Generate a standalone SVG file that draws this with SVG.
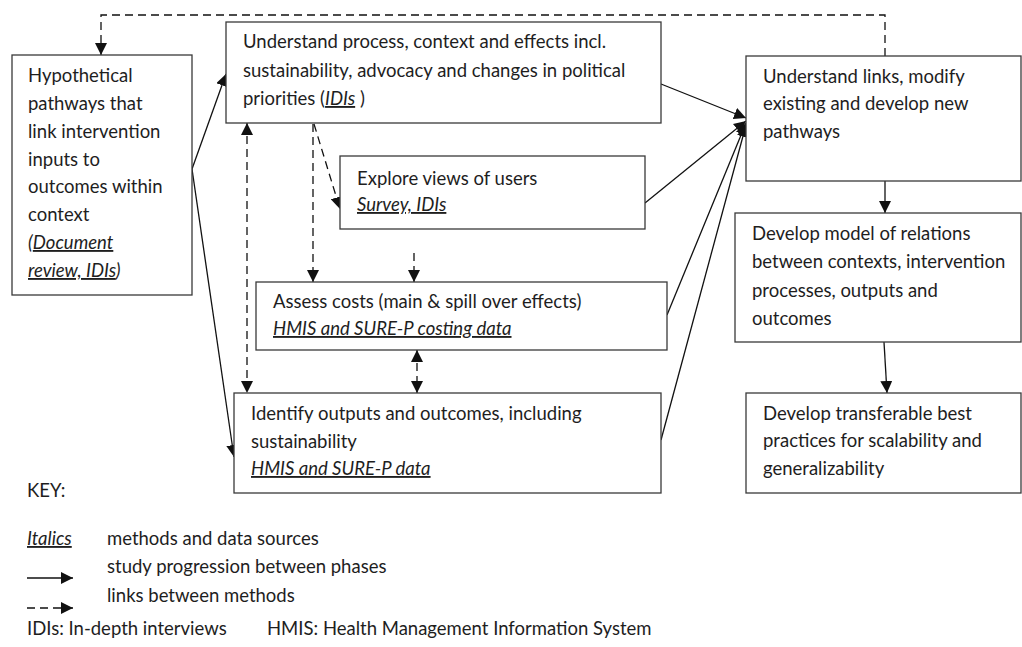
<svg xmlns="http://www.w3.org/2000/svg" width="1022" height="647" viewBox="0 0 1022 647">
<defs>
<marker id="ah" viewBox="0 0 12 12" refX="12" refY="6" markerWidth="12" markerHeight="12" orient="auto-start-reverse" markerUnits="userSpaceOnUse"><path d="M0,0 L12,6 L0,12 z" fill="#111"/></marker>
<style>
.box{fill:#fff;stroke:#3a3a3a;stroke-width:1.3}
text{font-family:Lato,"Liberation Sans",sans-serif;font-size:18.5px;fill:#1e1e1e}
.m{font-style:italic;text-decoration:underline}
.s{fill:none;stroke:#111;stroke-width:1.3}
.d{fill:none;stroke:#111;stroke-width:1.3;stroke-dasharray:8 5}
</style>
</defs>
<rect width="1022" height="647" fill="#fff"/>
<g id="connectors">
<polyline class="d" points="885,56 885,15 101,15 101,55" marker-end="url(#ah)"/>
<line class="s" x1="192" y1="169" x2="226" y2="74" marker-end="url(#ah)"/>
<line class="s" x1="192" y1="169" x2="234" y2="457" marker-end="url(#ah)"/>
<line class="s" x1="661" y1="84" x2="746" y2="118" marker-end="url(#ah)"/>
<line class="s" x1="645" y1="203" x2="746" y2="121" marker-end="url(#ah)"/>
<line class="s" x1="667" y1="315" x2="746" y2="123" marker-end="url(#ah)"/>
<line class="s" x1="661" y1="440" x2="746" y2="125" marker-end="url(#ah)"/>
<line class="s" x1="885" y1="181" x2="885" y2="213" marker-end="url(#ah)"/>
<line class="s" x1="884" y1="342" x2="887" y2="393" marker-end="url(#ah)"/>
<line class="d" x1="247" y1="123" x2="247" y2="393" marker-start="url(#ah)" marker-end="url(#ah)"/>
<line class="d" x1="313" y1="124" x2="313" y2="282" marker-end="url(#ah)"/>
<line class="d" x1="314" y1="124" x2="340" y2="209" marker-end="url(#ah)"/>
<line class="d" x1="414" y1="253" x2="414" y2="282" marker-end="url(#ah)"/>
<line class="d" x1="417" y1="350" x2="417" y2="393" stroke-dasharray="6 4" marker-start="url(#ah)" marker-end="url(#ah)"/>
</g>
<g id="n1">
<rect class="box" x="12" y="55" width="180" height="240"/>
<text x="28" y="82">Hypothetical</text>
<text x="28" y="110">pathways that</text>
<text x="28" y="138">link intervention</text>
<text x="28" y="166">inputs to</text>
<text x="28" y="193">outcomes within</text>
<text x="28" y="221">context</text>
<text x="28" y="249" font-style="italic">(<tspan class="m">Document</tspan></text>
<text x="28" y="277" font-style="italic"><tspan class="m">review, IDIs</tspan>)</text>
</g>
<g id="n2">
<rect class="box" x="226" y="22" width="435" height="101"/>
<text x="243" y="48">Understand process, context and effects incl.</text>
<text x="243" y="77">sustainability, advocacy and changes in political</text>
<text x="243" y="105">priorities (<tspan class="m">IDIs</tspan> )</text>
</g>
<g id="n3">
<rect class="box" x="340" y="156" width="305" height="73"/>
<text x="357" y="185">Explore views of users</text>
<text x="357" y="211"><tspan class="m">Survey, IDIs</tspan></text>
</g>
<g id="n4">
<rect class="box" x="256" y="282" width="411" height="68"/>
<text x="273" y="308">Assess costs (main &amp; spill over effects)</text>
<text x="273" y="335"><tspan class="m">HMIS and SURE-P costing data</tspan></text>
</g>
<g id="n5">
<rect class="box" x="234" y="393" width="427" height="100"/>
<text x="251" y="420">Identify outputs and outcomes, including</text>
<text x="251" y="448">sustainability</text>
<text x="251" y="475"><tspan class="m">HMIS and SURE-P data</tspan></text>
</g>
<g id="n6">
<rect class="box" x="746" y="56" width="275" height="125"/>
<text x="763" y="83">Understand links, modify</text>
<text x="763" y="110">existing and develop new</text>
<text x="763" y="138">pathways</text>
</g>
<g id="n7">
<rect class="box" x="735" y="213" width="286" height="129"/>
<text x="752" y="240">Develop model of relations</text>
<text x="752" y="268">between contexts, intervention</text>
<text x="752" y="297">processes, outputs and</text>
<text x="752" y="325">outcomes</text>
</g>
<g id="n8">
<rect class="box" x="746" y="393" width="275" height="100"/>
<text x="763" y="420">Develop transferable best</text>
<text x="763" y="447">practices for scalability and</text>
<text x="763" y="475">generalizability</text>
</g>
<g id="key">
<text x="27" y="497">KEY:</text>
<text x="27" y="545" class="m">Italics </text>
<text x="107" y="545">methods and data sources</text>
<line class="s" x1="27" y1="578" x2="73" y2="578" marker-end="url(#ah)"/>
<text x="107" y="573">study progression between phases</text>
<line class="d" x1="27" y1="608" x2="73" y2="608" stroke-dasharray="5 4" marker-end="url(#ah)"/>
<text x="107" y="602">links between methods</text>
<text x="27" y="635">IDIs: In-depth interviews</text>
<text x="267" y="635">HMIS: Health Management Information System</text>
</g>
</svg>
